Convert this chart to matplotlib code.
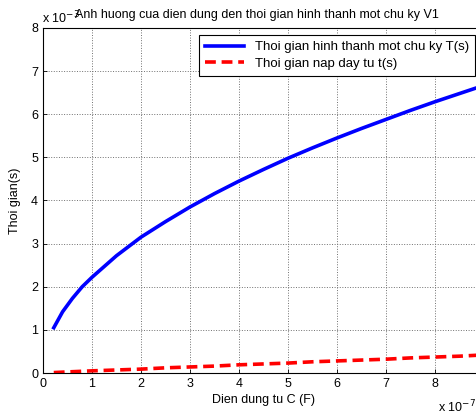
import matplotlib
matplotlib.use('Agg')
import matplotlib.pyplot as plt

plt.rcParams['font.family'] = ['Liberation Sans', 'DejaVu Sans']

# capacitance (x 1e-7 F) and times (x 1e-3 s)
cap = [0.22, 0.4, 0.6, 0.8, 1.0, 1.5, 2.0, 2.5, 3.0, 3.5, 4.0, 4.5, 5.0,
       5.5, 6.0, 6.5, 7.0, 7.5, 8.0, 8.5, 9.0]
t_period = [1.05, 1.42, 1.73, 2.0, 2.22, 2.72, 3.15, 3.51, 3.85, 4.16, 4.45,
            4.72, 4.98, 5.22, 5.45, 5.67, 5.88, 6.09, 6.29, 6.48, 6.67]
t_charge = [0.01, 0.02, 0.03, 0.04, 0.05, 0.07, 0.09, 0.12, 0.14, 0.16, 0.19,
            0.21, 0.23, 0.26, 0.28, 0.30, 0.32, 0.35, 0.37, 0.39, 0.42]

xticks = [0, 1, 2, 3, 4, 5, 6, 7, 8]
yticks = [0, 1, 2, 3, 4, 5, 6, 7, 8]

fs = 9

fig = plt.figure(figsize=(4.77, 4.15), dpi=100)
ax = fig.add_axes([43 / 477, 1 - 373 / 415, 441 / 477, 345 / 415])

ax.plot(cap, t_period, color='#0000ff', lw=2.6, label='Thoi gian hinh thanh mot chu ky T(s)')
ax.plot(cap, t_charge, color='#ff0000', lw=2.6, ls=(0, (3, 1.6)), label='Thoi gian nap day tu t(s)')

ax.set_xlim(0, 9)
ax.set_ylim(0, 8)
ax.set_xticks(xticks)
ax.set_yticks(yticks)
ax.tick_params(direction='in', length=3, labelsize=fs, width=0.6)
ax.grid(True, color='#707070', ls=':', lw=0.7)
for s in ax.spines.values():
    s.set_linewidth(0.8)

ax.set_xlabel('Dien dung tu C (F)', fontsize=fs, labelpad=3)
ax.set_ylabel('Thoi gian(s)', fontsize=fs, labelpad=7)

fig.text(75 / 477, 1 - 15 / 415, 'Anh huong cua dien dung den thoi gian hinh thanh mot chu ky V1',
         fontsize=fs, va='center', ha='left')
fig.text(42 / 477, 1 - 18 / 415, 'x 10$^{-3}$', fontsize=fs, va='center', ha='left')
fig.text(476 / 477, 1 - 407 / 415, 'x 10$^{-7}$', fontsize=fs, va='center', ha='right')

leg = ax.legend(loc='upper right', bbox_to_anchor=(475 / 477, 1 - 35 / 415),
                bbox_transform=fig.transFigure, fontsize=9.5, fancybox=False,
                framealpha=1, edgecolor='black', borderaxespad=0, handlelength=3.0,
                borderpad=0.45, labelspacing=0.35)
leg.get_frame().set_linewidth(0.8)

fig.savefig('out.png', dpi=100)
